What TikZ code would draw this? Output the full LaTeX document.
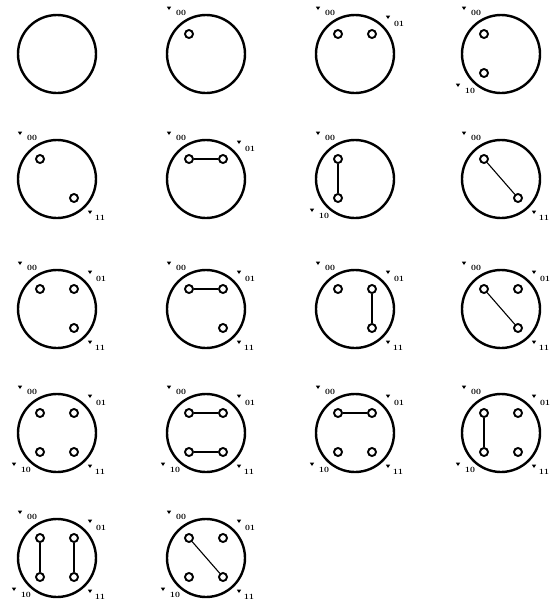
\documentclass[tikz,border=0pt]{standalone}
\usetikzlibrary{calc}
\tikzset{
 bigc/.style={circle,draw,line width=2.4pt,minimum size=78pt,inner sep=0pt},
 hole/.style={circle,draw,line width=1.9pt,minimum size=8pt,inner sep=0pt},
 link/.style={line width=1.1pt},
 lab/.style={font=\fontsize{8}{8}\selectfont\bfseries,inner sep=0pt},
 trimark/.style={fill=black}
}
\newcommand\mydiag[3]{%
  \coordinate (#1) at (#2);
  \node[bigc] (#1c) at (#1) {};
  \path (#1) +(-17,-20) coordinate (#1p00) +(17,-20) coordinate (#1p01)
             +(-17,19) coordinate (#1p10) +(17,19) coordinate (#1p11)
             +(-25,-41) coordinate (#1t00) +(44,-30) coordinate (#1t01)
             +(-31,37) coordinate (#1t10) +(43,39) coordinate (#1t11)
             +(-37,-46) coordinate (#1m00) +(33,-37) coordinate (#1m01)
             +(-43,31) coordinate (#1m10) +(33,33) coordinate (#1m11);
  \foreach \h in {#3} {
    \node[hole] (#1h\h) at (#1p\h) {};
    \node[lab] (#1l\h) at (#1t\h) {\h};
    \fill[trimark] (#1m\h) +(-2.2,-1.4) -- +(2.2,-1.4) -- +(0,2) -- cycle;
  }
}
\begin{document}
\begin{tikzpicture}[x=1pt,y=-1pt]
\useasboundingbox (0,0) rectangle (552,606);
% row 1
\coordinate (d1) at (57,54);
\node[bigc] (d1c) at (d1) {};
\mydiag{d2}{206,54}{00}
\mydiag{d3}{355,54}{00,01}
\mydiag{d4}{501,54}{00,10}
% row 2
\mydiag{d5}{57,179}{00,11}
\mydiag{d6}{206,179}{00,01}
\draw[link] (d6h00) -- (d6h01);
\mydiag{d7}{355,179}{00,10}
\draw[link] (d7h00) -- (d7h10);
\mydiag{d8}{501,179}{00,11}
\draw[link] (d8h00) -- (d8h11);
% row 3
\mydiag{d9}{57,309}{00,01,11}
\mydiag{d10}{206,309}{00,01,11}
\draw[link] (d10h00) -- (d10h01);
\mydiag{d11}{355,309}{00,01,11}
\draw[link] (d11h01) -- (d11h11);
\mydiag{d12}{501,309}{00,01,11}
\draw[link] (d12h00) -- (d12h11);
% row 4
\mydiag{d13}{57,433}{00,01,10,11}
\mydiag{d14}{206,433}{00,01,10,11}
\draw[link] (d14h00) -- (d14h01);
\draw[link] (d14h10) -- (d14h11);
\mydiag{d15}{355,433}{00,01,10,11}
\draw[link] (d15h00) -- (d15h01);
\mydiag{d16}{501,433}{00,01,10,11}
\draw[link] (d16h00) -- (d16h10);
% row 5
\mydiag{d17}{57,558}{00,01,10,11}
\draw[link] (d17h00) -- (d17h10);
\draw[link] (d17h01) -- (d17h11);
\mydiag{d18}{206,558}{00,01,10,11}
\draw[link] (d18h00) -- (d18h11);
\end{tikzpicture}
\end{document}
